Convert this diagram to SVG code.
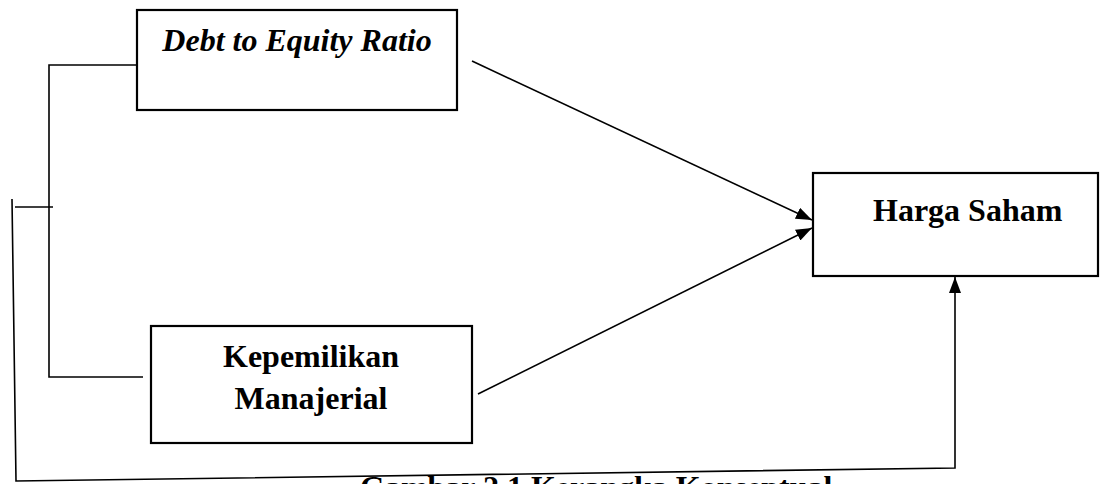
<svg xmlns="http://www.w3.org/2000/svg" width="1116" height="484" viewBox="0 0 1116 484">
<style>
.box{fill:#fff;stroke:#000;stroke-width:2.2}
.ln{fill:none;stroke:#000;stroke-width:1.6}
.t{font-family:"Liberation Serif","Times New Roman",serif;font-size:32px;font-weight:bold;fill:#000}
</style>
<defs>
<marker id="ah" viewBox="0 0 16 12" refX="16" refY="6" markerWidth="16" markerHeight="12" markerUnits="userSpaceOnUse" orient="auto">
<path d="M0,0 L16,6 L0,12 Z" fill="#000"/>
</marker>
</defs>
<rect width="1116" height="484" fill="#fff"/>
<g id="connectors">
<polyline class="ln" points="141,65 49,65 49,377 143,377"/>
<line class="ln" x1="15" y1="207" x2="53" y2="207"/>
<polyline class="ln" points="12,199 16,481 955,468 955,277" marker-end="url(#ah)"/>
<line class="ln" x1="472" y1="61" x2="812" y2="220" marker-end="url(#ah)"/>
<line class="ln" x1="478" y1="394" x2="812" y2="228" marker-end="url(#ah)"/>
</g>
<g id="node-der">
<rect class="box" x="137" y="10" width="320" height="100"/>
<text class="t" x="297" y="51" text-anchor="middle" font-style="italic">Debt to Equity Ratio</text>
</g>
<g id="node-km">
<rect class="box" x="151" y="326" width="321" height="117"/>
<text class="t" x="311" y="367" text-anchor="middle">Kepemilikan</text>
<text class="t" x="311" y="409" text-anchor="middle">Manajerial</text>
</g>
<g id="node-hs">
<rect class="box" x="813" y="173" width="285" height="103"/>
<text class="t" x="873" y="221">Harga Saham</text>
</g>
<text class="t" x="360" y="498">Gambar 2.1 Kerangka Konseptual</text>
</svg>
